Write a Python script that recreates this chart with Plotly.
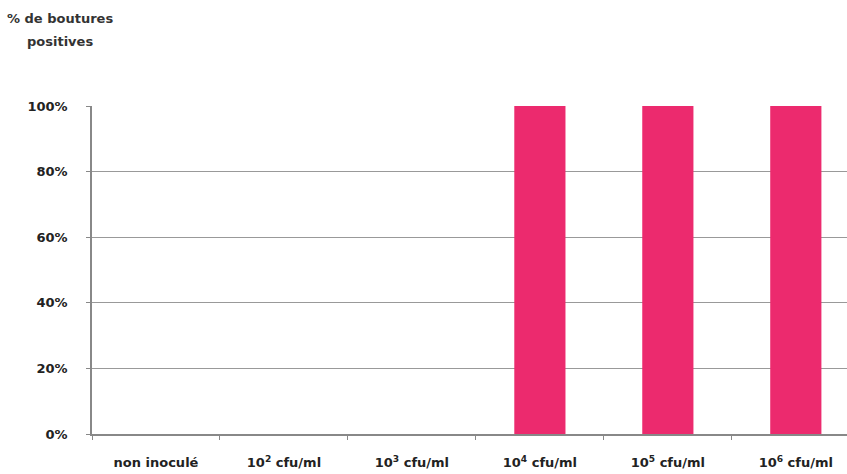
import plotly.graph_objects as go

categories = ["non inoculé", "10<sup>2</sup> cfu/ml", "10<sup>3</sup> cfu/ml",
              "10<sup>4</sup> cfu/ml", "10<sup>5</sup> cfu/ml", "10<sup>6</sup> cfu/ml"]
values = [0, 0, 0, 100, 100, 100]
y_ticks = [0, 20, 40, 60, 80, 100]
y_ticklabels = ["0%", "20%", "40%", "60%", "80%", "100%"]
title_lines = ["% de boutures", "positives"]

fig = go.Figure(go.Bar(x=categories, y=values, marker=dict(color="#EC2A6E", line=dict(width=0)),
                       width=0.4))

fig.update_layout(
    width=847, height=474,
    margin=dict(l=92, r=0, t=106, b=40),
    plot_bgcolor="white", paper_bgcolor="white",
    font=dict(family="DejaVu Sans", size=12, color="#222"),
    showlegend=False,
)
fig.update_xaxes(
    type="category", range=[-0.5, 5.4],
    showline=True, linecolor="#888", linewidth=1.5,
    ticks="outside", tickson="boundaries", ticklen=4, tickcolor="#888",
    tickfont=dict(family="DejaVu Sans", size=13, color="#222", weight="bold"),
    ticklabelstandoff=16,
    showgrid=False,
)
fig.update_yaxes(
    range=[0, 100], tickvals=y_ticks, ticktext=y_ticklabels,
    showline=True, linecolor="#888", linewidth=1.5,
    showgrid=True, gridcolor="#999", gridwidth=1.2,
    ticks="outside", ticklen=4, tickcolor="#888",
    tickfont=dict(family="DejaVu Sans", size=13, color="#222", weight="bold"),
    ticklabelstandoff=16,
    zeroline=False,
)
for i, line in enumerate(title_lines):
    fig.add_annotation(
        text=line, xref="paper", yref="paper",
        x=-0.042, y=1.0, yshift=88 - 23 * i, xanchor="center", yanchor="middle", showarrow=False,
        font=dict(family="DejaVu Sans", size=13, color="#333", weight="bold"),
    )
fig.write_html("out.html")
